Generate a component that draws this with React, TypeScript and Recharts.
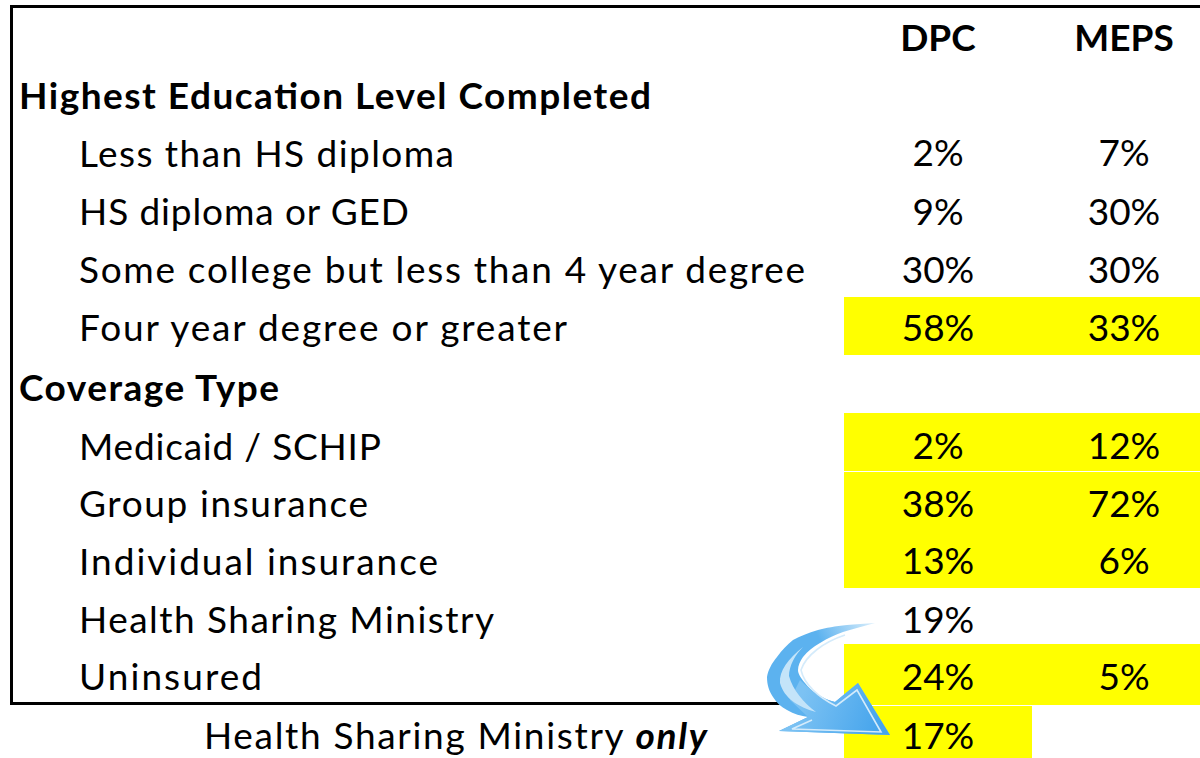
import React from 'react';
import { BarChart, Bar, XAxis, YAxis, Cell, LabelList } from 'recharts';

const rowLabels = [
  '',
  'Highest Education Level Completed',
  'Less than HS diploma',
  'HS diploma or GED',
  'Some college but less than 4 year degree',
  'Four year degree or greater',
  'Coverage Type',
  'Medicaid / SCHIP',
  'Group insurance',
  'Individual insurance',
  'Health Sharing Ministry',
  'Uninsured',
  'Health Sharing Ministry only',
];
const dpcValues = ['DPC', '', '2%', '9%', '30%', '58%', '', '2%', '38%', '13%', '19%', '24%', '17%'];
const mepsValues = ['MEPS', '', '7%', '30%', '30%', '33%', '', '12%', '72%', '6%', '', '5%', ''];
const dpcHighlight = [false, false, false, false, false, true, false, true, true, true, false, true, true];
const mepsHighlight = [false, false, false, false, false, true, false, true, true, true, false, true, false];
const sectionRows = ['Highest Education Level Completed', 'Coverage Type'];
const footerRow = 'Health Sharing Ministry only';

const YELLOW = '#ffff00';
const FONT = 'Lato, Carlito, sans-serif';
const FONT_SIZE = 37;
const BASELINE = 17;
// the source table's rows are not quite even, small shift per row
const rowNudge = [0, 0, -1, -1, -1, -2, 0, 0, -1, -2, -2, -3, -3];
// Calibri runs wider than Lato, so stretch each label to the width it has in the source
const labelWidths = [0, 632, 375, 330, 726, 488, 260, 302, 289, 359, 415, 183, 503];

const data = rowLabels.map((row, i) => ({
  row,
  gap: 843,
  dpcBand: 188,
  mepsBand: 184,
  dpc: dpcValues[i],
  meps: mepsValues[i],
}));

function RowTick({ y, payload, index }: any) {
  const label: string = payload.value;
  if (!label) return null;
  const isSection = sectionRows.includes(label);
  const isFooter = label === footerRow;
  const tx = isSection ? 19 : isFooter ? 204 : 79;
  return (
    <text
      x={tx}
      y={y + BASELINE + rowNudge[index]}
      textAnchor="start"
      fontFamily={FONT}
      fontSize={FONT_SIZE}
      fontWeight={isSection ? 700 : 400}
      textLength={labelWidths[index]}
      lengthAdjust="spacing"
      fill="#000"
    >
      {isFooter ? (
        <>
          Health Sharing Ministry{' '}
          <tspan fontWeight={700} fontStyle="italic">
            only
          </tspan>
        </>
      ) : (
        label
      )}
    </text>
  );
}

function CellText({ x, y, width, height, value, index }: any) {
  if (!value) return null;
  return (
    <text
      x={x + width / 2}
      y={y + height / 2 + BASELINE + rowNudge[index]}
      textAnchor="middle"
      fontFamily={FONT}
      fontSize={FONT_SIZE}
      fontWeight={index === 0 ? 700 : 400}
      fill="#000"
    >
      {value}
    </text>
  );
}

// yellow cell; the Uninsured row starts a little higher in the source
function CellBand({ x, y, width, height, fill, index }: any) {
  const lift = index === 11 ? 3 : 0;
  return <rect x={x} y={y - lift} width={width} height={height + lift} fill={fill} shapeRendering="crispEdges" />;
}

function Arrow() {
  const outline =
    'M875 623 C865 624 855 624 847 625 C835 626 826 628 818 630 C808 633 800 636 793 640 C787 645 782 650 777 657 C772 663 768 670 767 677 C767 685 769 691 773 697 C777 703 781 707 787 710 C794 714 801 716 808 717 L779 731 L890 735 L858 683 L835 702 C828 700 823 698 818 695 C812 691 808 687 805 683 C801 678 798 674 798 670 C798 666 800 661 803 657 C808 651 813 647 820 643 C828 638 835 635 843 632 C853 629 864 626 875 623 Z';
  return (
    <svg width={1200} height={758} style={{ position: 'absolute', left: 0, top: 0 }}>
      <defs>
        <linearGradient id="arrowBody" gradientUnits="userSpaceOnUse" x1="880" y1="622" x2="825" y2="650">
          <stop offset="0" stopColor="#e6f4fd" />
          <stop offset="1" stopColor="#5cb2ef" />
        </linearGradient>
        <linearGradient id="arrowHead" gradientUnits="userSpaceOnUse" x1="800" y1="700" x2="880" y2="730">
          <stop offset="0" stopColor="#7cc2f3" />
          <stop offset="1" stopColor="#45a4ec" />
        </linearGradient>
      </defs>
      <path d={outline} fill="url(#arrowBody)" />
      <path d="M808 717 L779 731 L890 735 L858 683 L835 702 C825 700 812 692 800 680 L790 700 Z" fill="url(#arrowHead)" />
      {/* light band on the outside of the bend */}
      <path
        d="M803 647 C788 659 779 671 780 683 C784 698 798 707 816 712 C803 702 793 690 789 676 C789 666 795 655 803 647 Z"
        fill="#c4e4f9"
      />
      {/* light rim on the inner edge and round the head */}
      <path
        d="M845 635 C824 642 806 655 801 670 C804 684 818 697 836 706 L857 690 L881 732 L792 729 L812 720"
        fill="none"
        stroke="#d4ebfb"
        strokeWidth={1.6}
      />
    </svg>
  );
}

export default function App() {
  return (
    <div style={{ position: 'fixed', left: 0, top: 0, width: 1200, height: 758, overflow: 'hidden', background: '#fff' }}>
      <BarChart
        width={1216}
        height={764}
        layout="vertical"
        data={data}
        barCategoryGap={0}
        margin={{ top: 4.5, right: 0, bottom: 0, left: 0 }}
      >
        <XAxis type="number" domain={[0, 1215]} hide />
        <YAxis
          type="category"
          dataKey="row"
          width={1}
          axisLine={false}
          tickLine={false}
          interval={0}
          tick={(props: any) => <RowTick {...props} />}
        />
        <Bar dataKey="gap" stackId="t" fill="none" isAnimationActive={false} />
        <Bar dataKey="dpcBand" stackId="t" isAnimationActive={false} shape={(p: any) => <CellBand {...p} />}>
          {dpcHighlight.map((on, i) => (
            <Cell key={i} fill={on ? YELLOW : 'none'} />
          ))}
          <LabelList dataKey="dpc" content={<CellText />} />
        </Bar>
        <Bar dataKey="mepsBand" stackId="t" isAnimationActive={false} shape={(p: any) => <CellBand {...p} />}>
          {mepsHighlight.map((on, i) => (
            <Cell key={i} fill={on ? YELLOW : 'none'} />
          ))}
          <LabelList dataKey="meps" content={<CellText />} />
        </Bar>
        <path d="M1200 6.5 H11.5 V703.5 H1200" fill="none" stroke="#000" strokeWidth={3} />
      </BarChart>
      <Arrow />
    </div>
  );
}
